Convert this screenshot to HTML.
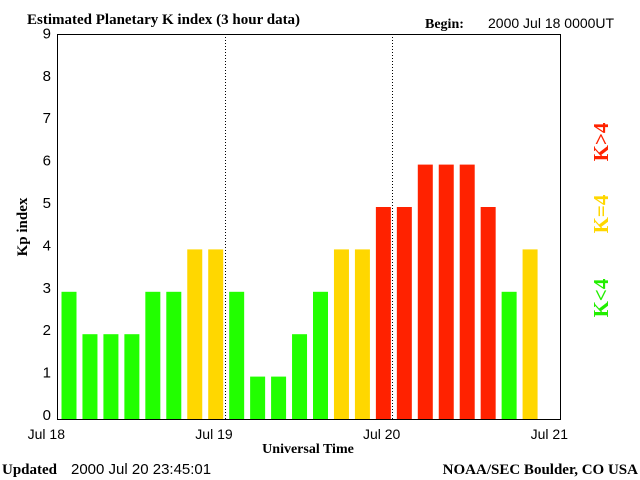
<!DOCTYPE html>
<html><head><meta charset="utf-8"><style>
body{margin:0;background:#fff;}
svg{display:block;font-family:"Liberation Sans",sans-serif;}
</style></head><body>
<svg id="chart" width="640" height="480">
<text x="27" y="24" font-family="Liberation Serif" font-weight="bold" font-size="15">Estimated Planetary K index (3 hour data)</text>
<text x="425" y="28" font-family="Liberation Serif" font-weight="bold" font-size="14">Begin:</text>
<text x="488" y="28" font-size="14">2000 Jul 18 0000UT</text>
<text x="2" y="474" font-family="Liberation Serif" font-weight="bold" font-size="15">Updated</text>
<text x="71" y="474" font-size="15">2000 Jul 20 23:45:01</text>
<text x="638" y="474" text-anchor="end" font-family="Liberation Serif" font-weight="bold" font-size="15">NOAA/SEC Boulder, CO USA</text>
<text x="308" y="453" text-anchor="middle" font-family="Liberation Serif" font-weight="bold" font-size="14">Universal Time</text>
<text transform="translate(27,227) rotate(-90)" text-anchor="middle" font-family="Liberation Serif" font-weight="bold" font-size="15">Kp index</text>
<text transform="translate(608,298) rotate(-90)" text-anchor="middle" fill="#22ee00" font-family="Liberation Serif" font-weight="bold" font-size="21">K&lt;4</text>
<text transform="translate(608,214) rotate(-90)" text-anchor="middle" fill="#ffd700" font-family="Liberation Serif" font-weight="bold" font-size="21">K=4</text>
<text transform="translate(608,142) rotate(-90)" text-anchor="middle" fill="#ff2200" font-family="Liberation Serif" font-weight="bold" font-size="21">K&gt;4</text>
<g id="plot"></g>
</svg>
<script>
const kpValues=[3,2,2,2,3,3,4,4,3,1,1,2,3,4,4,5,5,6,6,6,5,3,4];
const yTicks=[0,1,2,3,4,5,6,7,8,9];
const dayLabels=["Jul 18","Jul 19","Jul 20","Jul 21"];
const L=57,R=560,T=34,B=419,slotsPerDay=8,days=3;
const slotW=(R-L)/(slotsPerDay*days);
function xs(i){return L+i*slotW;}
function ys(v){return B-v*42.4;}
const NS="http://www.w3.org/2000/svg";
const g=document.getElementById('plot');
function mk(t,a){const e=document.createElementNS(NS,t);for(const k in a)e.setAttribute(k,a[k]);g.appendChild(e);return e;}
kpValues.forEach((v,i)=>{
 const c=v<4?'#22ff00':(v==4?'#ffd700':'#ff2200');
 const r=mk('rect',{x:xs(i)+4.5,y:ys(v),width:15,height:B-ys(v),fill:c});
 
 
});
for(let i=0;i<=slotsPerDay*days;i++){
 const x=Math.round(xs(i))+0.5;
 const t=mk('line',{x1:x,x2:x,y1:B,y2:B-7,stroke:'#fff'});
 
 
}
for(let d=1;d<days;d++){
 const x=Math.round(xs(d*slotsPerDay))+0.5;
 const l=mk('line',{x1:x,x2:x,y1:T,y2:B,stroke:'#000','stroke-dasharray':'1,2'});
 
 
}
const f=mk('rect',{x:L+0.5,y:T+0.5,width:R-L,height:B-T,fill:'none',stroke:'#000'});


yTicks.forEach(v=>{
 const t=mk('text',{x:51,y:ys(v)+1,'text-anchor':'end','font-size':15});
 t.textContent=v;
 
 
});
dayLabels.forEach((s,d)=>{
 const t=mk('text',{x:xs(d*slotsPerDay)+8,y:439,'text-anchor':'end','font-size':14});
 t.textContent=s;
 
 
});
</script>
</body></html>
